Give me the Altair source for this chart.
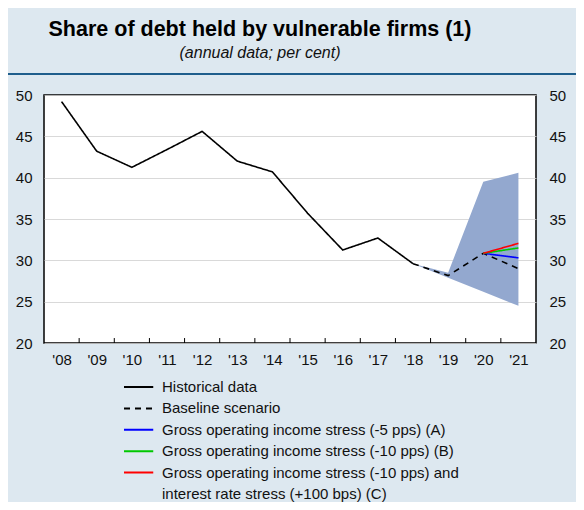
import altair as alt
import pandas as pd
import json

# ---- data ----
hist_years = [2008, 2009, 2010, 2011, 2012, 2013, 2014, 2015, 2016, 2017, 2018]
hist_vals = [49.2, 43.2, 41.25, 43.4, 45.6, 42.0, 40.7, 35.7, 31.25, 32.7, 29.6]

base_years = [2018, 2019, 2020, 2021]
base_vals = [29.6, 28.15, 30.85, 29.0]

stress_years = [2020, 2021]
stress_a = [30.85, 30.3]
stress_b = [30.85, 31.5]
stress_c = [30.85, 32.05]

band_years = [2018, 2019, 2020, 2021]
band_low = [29.6, 27.9, 26.2, 24.5]
band_high = [29.6, 28.5, 39.5, 40.6]

tick_years = list(range(2008, 2022))
tick_labels = ["'08", "'09", "'10", "'11", "'12", "'13", "'14", "'15", "'16", "'17", "'18", "'19", "'20", "'21"]
tick_bounds = [y + 0.5 for y in range(2008, 2021)]

series_names = [
    "Historical data",
    "Baseline scenario",
    "Gross operating income stress (-5 pps) (A)",
    "Gross operating income stress (-10 pps) (B)",
    "Gross operating income stress (-10 pps) and",
    "interest rate stress (+100 bps) (C)",   # second line of the (C) legend label
]
series_colors = ["#000000", "#000000", "#0000ff", "#00c800", "#ff0000", "rgba(0,0,0,0)"]
series_dash = [[1, 0], [6, 5], [1, 0], [1, 0], [1, 0], [1, 0]]

rows = []
for yv, v in zip(hist_years, hist_vals):
    rows.append({"series": series_names[0], "year": yv, "value": v, "o": 0})
for yv, v in zip(base_years, base_vals):
    rows.append({"series": series_names[1], "year": yv, "value": v, "o": 1})
for name, vals, o in [(series_names[2], stress_a, 2), (series_names[3], stress_b, 3), (series_names[4], stress_c, 4)]:
    for yv, v in zip(stress_years, vals):
        rows.append({"series": name, "year": yv, "value": v, "o": o})
lines_df = pd.DataFrame(rows)

band_df = pd.DataFrame({"year": band_years, "low": band_low, "high": band_high})
ticks_df = pd.DataFrame({"b": tick_bounds})

FONT = "Liberation Sans"
label_expr = json.dumps(tick_labels) + "[datum.value - 2008]"

xscale = alt.Scale(domain=[2007.5, 2021.5], nice=False, zero=False)
yscale = alt.Scale(domain=[20, 50], nice=False, zero=False)

x_axis = alt.Axis(values=tick_years, labelExpr=label_expr, ticks=False, domain=False, grid=False,
                  labelPadding=9, labelFont=FONT, labelFontSize=15, labelColor="#111", title=None,
                  labelFlush=False)

band = alt.Chart(band_df).mark_area(color="#93a8cf", opacity=1).encode(
    x=alt.X("year:Q", scale=xscale, axis=x_axis),
    y=alt.Y("low:Q", scale=yscale, axis=alt.Axis(orient="right", values=[20, 25, 30, 35, 40, 45, 50],
                                                  ticks=False, domain=False, grid=False, labelPadding=13,
                                                  labelFont=FONT, labelFontSize=15, labelColor="#111",
                                                  title=None)),
    y2="high:Q",
)

legend = alt.Legend(title=None, orient="none", legendX=79, legendY=284,
                    direction="vertical", symbolType="M-1,0H2.9", symbolSize=225,
                    symbolStrokeWidth=2, labelFont=FONT, labelFontSize=15,
                    labelColor="#111", labelLimit=600, rowPadding=5.4, clipHeight=16,
                    labelOffset=22)

lines = alt.Chart(lines_df).mark_line(strokeWidth=1.6).encode(
    x=alt.X("year:Q", scale=xscale, axis=x_axis),
    y=alt.Y("value:Q", scale=yscale, axis=alt.Axis(orient="left", values=[20, 25, 30, 35, 40, 45, 50],
                                                    ticks=False, domain=False, grid=True,
                                                    gridColor="#cfcfcf", gridWidth=0.8,
                                                    labelPadding=12, labelFont=FONT, labelFontSize=15,
                                                    labelColor="#111", title=None)),
    color=alt.Color("series:N", scale=alt.Scale(domain=series_names, range=series_colors),
                    legend=legend),
    strokeDash=alt.StrokeDash("series:N", scale=alt.Scale(domain=series_names, range=series_dash),
                              legend=legend),
    order="o:Q",
)

tick_marks = alt.Chart(ticks_df).mark_rule(color="#000", strokeWidth=1).encode(
    x=alt.X("b:Q", scale=xscale, axis=x_axis),
    y=alt.YDatum(20, axis=None),
    y2=alt.Y2Datum(20.6),
)

separator = alt.Chart(ticks_df.head(1)).mark_rule(color="#1f5e8c", strokeWidth=2).encode(
    x=alt.value(-36), x2=alt.value(532), y=alt.value(-21)
)

chart = alt.layer(band, lines, tick_marks, separator).resolve_axis(y="independent").properties(
    width=492,
    height=248,
    autosize=alt.AutoSizeParams(type="none"),
    padding={"left": 36, "top": 87, "right": 40, "bottom": 159},
    background="#dde8f0",
    title=alt.TitleParams(
        text="Share of debt held by vulnerable firms (1)",
        subtitle="(annual data; per cent)",
        font=FONT, fontSize=21.5, fontWeight="bold", color="#000",
        subtitleFont=FONT, subtitleFontSize=16, subtitleFontStyle="italic", subtitleColor="#111",
        subtitlePadding=5, anchor="middle", frame="group", dx=-30, offset=12,
    ),
).configure_view(
    stroke="#000", strokeWidth=1.5, fill="#ffffff"
).configure_legend(rowPadding=5.4, clipHeight=16)

chart.save("out.html", embed_options={"renderer": "svg", "actions": False})
